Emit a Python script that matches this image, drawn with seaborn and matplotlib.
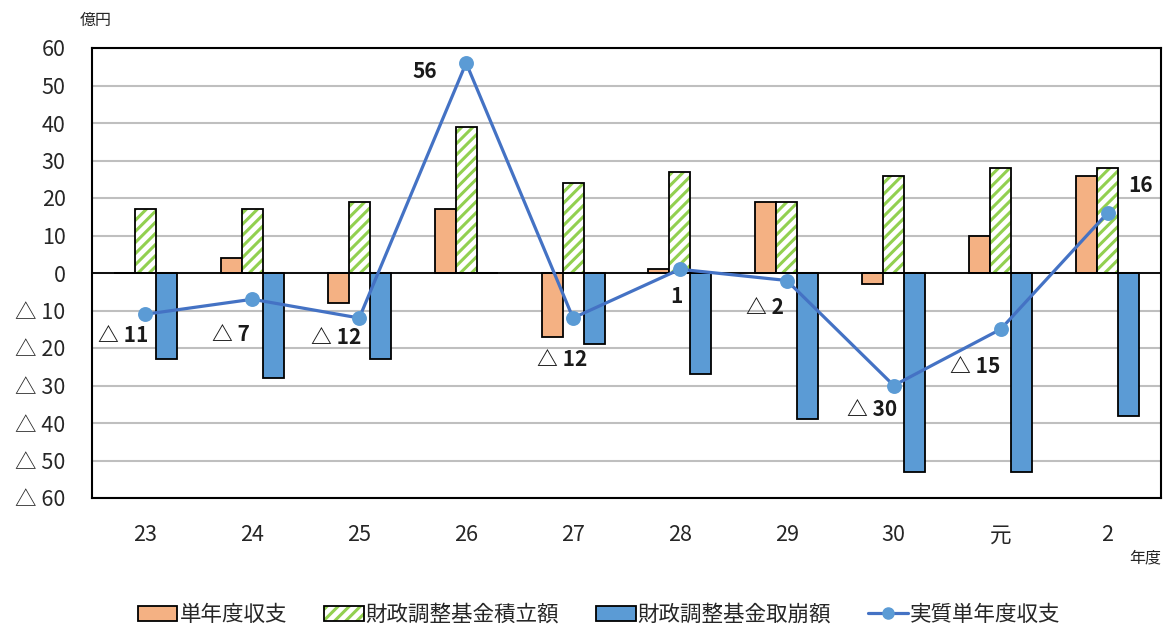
import matplotlib
matplotlib.use("Agg")
import matplotlib.pyplot as plt
from matplotlib.patches import Patch, Rectangle
from matplotlib.lines import Line2D
from matplotlib.legend_handler import HandlerTuple
import seaborn as sns
import pandas as pd
import numpy as np

years = ["23", "24", "25", "26", "27", "28", "29", "30", "元", "2"]
single_year = [0, 4, -8, 17, -17, 1, 19, -3, 10, 26]          # 単年度収支
reserve_in = [17, 17, 19, 39, 24, 27, 19, 26, 28, 28]          # 財政調整基金積立額
reserve_out = [-23, -28, -23, 0, -19, -27, -39, -53, -53, -38] # 財政調整基金取崩額
real_single = [-11, -7, -12, 56, -12, 1, -2, -30, -15, 16]     # 実質単年度収支
series_names = ["単年度収支", "財政調整基金積立額", "財政調整基金取崩額", "実質単年度収支"]
yticks = [60, 50, 40, 30, 20, 10, 0, -10, -20, -30, -40, -50, -60]

# label offsets in pixels (style)
label_offsets = [(-22, -21), (-21, -35), (-23, -19), (-41, -9), (-11, -41),
                 (-4, -27), (-22, -27), (-22, -24), (-25, -37), (33, 28)]

ORANGE = "#F4B183"
GREEN = "#92D050"
BLUE = "#5B9BD5"
LINE = "#4472C4"

sns.set_style("white")
plt.rcParams["font.family"] = ["Noto Sans CJK JP", "DejaVu Sans"]
plt.rcParams["hatch.linewidth"] = 2.2

fig = plt.figure(figsize=(11.72, 6.3), dpi=100)
ax = fig.add_axes([92 / 1172, 1 - 498 / 630, (1161 - 92) / 1172, (498 - 48) / 630])

df = pd.DataFrame({
    "year": years * 3,
    "value": single_year + reserve_in + reserve_out,
    "series": [series_names[0]] * 10 + [series_names[1]] * 10 + [series_names[2]] * 10,
})
sns.barplot(data=df, x="year", y="value", hue="series", order=years,
            hue_order=series_names[:3], palette=[ORANGE, "white", BLUE],
            saturation=1, width=0.59, dodge=True, edgecolor="black", linewidth=1.3,
            legend=False, ax=ax, zorder=3)

# hatch the reserve bars in green with black outline
for p in ax.containers[1]:
    p.set_edgecolor(GREEN)
    p.set_hatch("///")
    p.set_linewidth(0)
    ax.add_patch(Rectangle(p.get_xy(), p.get_width(), p.get_height(),
                           fill=False, edgecolor="black", linewidth=1.3, zorder=3.5))

line_df = pd.DataFrame({"year": years, "value": real_single})
sns.pointplot(data=line_df, x="year", y="value", order=years, color=LINE,
              markers="o", markersize=9, linewidth=2.3, ax=ax, zorder=5)
for ln in ax.lines:
    ln.set_markerfacecolor(BLUE)
    ln.set_markeredgecolor(BLUE)
    ln.set_zorder(5)

def fmt(v):
    return f"△ {abs(v)}" if v < 0 else f"{v}"

for i, (v, off) in enumerate(zip(real_single, label_offsets)):
    ax.annotate(fmt(v), (i, v), xytext=off, textcoords="offset pixels",
                ha="center", va="center", fontsize=15, fontweight="bold",
                color="#1a1a1a", zorder=6)

ax.set_ylim(-60, 60)
ax.set_xlim(-0.5, 9.5)
ax.set_yticks(yticks)
ax.set_yticklabels([fmt(t) for t in yticks], fontsize=15.5)
ax.tick_params(axis="y", length=0, pad=19)
ax.tick_params(axis="x", length=0, pad=19, labelsize=15.5)
ax.set_xlabel("")
ax.set_ylabel("")
ax.grid(axis="y", color="#BFBFBF", linewidth=1.5, zorder=0)
ax.set_axisbelow(True)
ax.axhline(0, color="black", linewidth=1.3, zorder=4)
for s in ax.spines.values():
    s.set_visible(True)
    s.set_color("black")
    s.set_linewidth(1.5)

fig.text(96 / 1172, 1 - 20 / 630, "億円", ha="center", va="center", fontsize=11.5)
fig.text(1145 / 1172, 1 - 558 / 630, "年度", ha="center", va="center", fontsize=11.5)

handles = [
    Patch(facecolor=ORANGE, edgecolor="black", linewidth=1.3),
    (Patch(facecolor="white", edgecolor=GREEN, hatch="///", linewidth=0),
     Patch(fill=False, edgecolor="black", linewidth=1.3)),
    Patch(facecolor=BLUE, edgecolor="black", linewidth=1.3),
    Line2D([0], [0], color=LINE, linewidth=2.3, marker="o", markersize=8,
           markerfacecolor=BLUE, markeredgecolor=BLUE),
]
fig.legend(handles, series_names, loc="center", bbox_to_anchor=(599 / 1172, 1 - 615 / 630),
           ncol=4, frameon=False, fontsize=15.5, columnspacing=1.7, handlelength=1.85,
           handletextpad=0.1, handler_map={tuple: HandlerTuple(ndivide=1)})

fig.savefig("out.png", dpi=100)
